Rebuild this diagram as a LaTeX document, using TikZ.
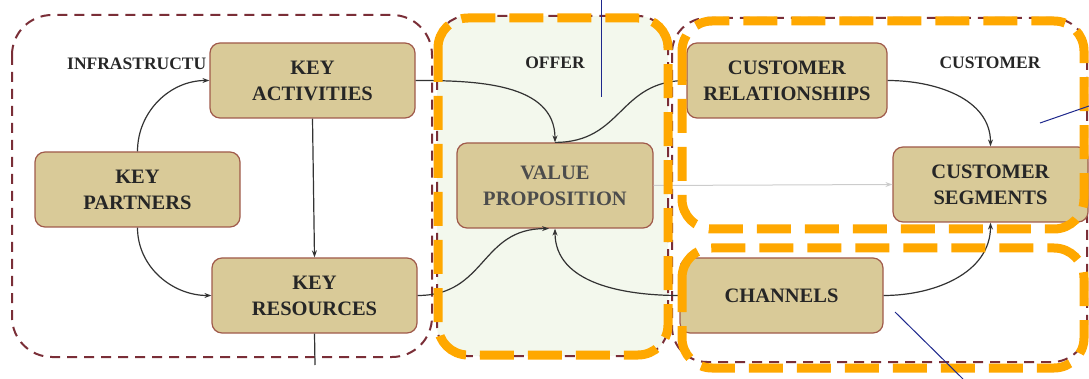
\documentclass[tikz,border=0pt]{standalone}
\usepackage{fontspec}
\setmainfont{Liberation Serif}
\usetikzlibrary{arrows.meta}

\definecolor{caja}{RGB}{217,202,152}
\definecolor{borde}{RGB}{160,90,75}
\definecolor{granate}{RGB}{122,46,55}
\definecolor{naranja}{RGB}{255,168,0}
\definecolor{verdoso}{RGB}{243,248,237}
\definecolor{azul}{RGB}{30,40,140}

\tikzset{
  bloque/.style={draw=borde, line width=1.2pt, fill=caja, rounded corners=10pt,
    inner sep=0pt, align=center, text=black!85,
    font=\fontsize{20.5}{26}\selectfont\bfseries},
  titulo/.style={inner sep=0pt, text=black!85, font=\fontsize{17.5}{20}\selectfont\bfseries},
  flecha/.style={-{Stealth[length=7pt,width=5pt]}, line width=1.2pt, black!80},
  linea/.style={line width=1.2pt, black!80},
  region/.style={granate, line width=2pt, dash pattern=on 10pt off 7pt},
  grupo/.style={naranja, line width=9pt, dash pattern=on 34pt off 14pt, rounded corners=30pt},
  nota/.style={azul, line width=1pt}
}

\begin{document}
\begin{tikzpicture}[x=1pt, y=-1pt]

    \useasboundingbox (0, 0) rectangle (1089, 379);

    % Regiones
    \fill[verdoso, rounded corners=30pt] (437, 16) rectangle (668, 356);
    \draw[region, rounded corners=40pt] (12, 15) rectangle (432, 357);
    \draw[region, rounded corners=30pt] (437, 16) rectangle (668, 356);
    \draw[region, rounded corners=35pt] (672, 18) rectangle (1087, 362);

    % Etiquetas
    \node[titulo, anchor=west] (infra) at (67, 64) {INFRASTRUCTU};
    \node[titulo] (oferta) at (555, 63) {OFFER};
    \node[titulo] (cliente) at (990, 63) {CUSTOMER};

    % Cajas
    \node[bloque, minimum width=205pt, minimum height=75pt] (ka) at (312.5, 80.5) {KEY\\ACTIVITIES};
    \node[bloque, minimum width=205pt, minimum height=75pt] (kp) at (137.5, 189.5) {KEY\\PARTNERS};
    \node[bloque, minimum width=205pt, minimum height=75pt] (kr) at (314.5, 295.5) {KEY\\RESOURCES};
    \node[bloque, minimum width=196pt, minimum height=85pt, text=black!70] (vp) at (555, 185.5) {VALUE\\PROPOSITION};
    \node[bloque, minimum width=200pt, minimum height=75pt] (cr) at (787, 80.5) {CUSTOMER\\RELATIONSHIPS};
    \node[bloque, minimum width=195pt, minimum height=75pt] (cs) at (990.5, 184.5) {CUSTOMER\\SEGMENTS};
    \node[bloque, minimum width=203pt, minimum height=75pt] (ch) at (781.5, 295.5) {CHANNELS};

    % Flechas
    \draw[flecha] (kp.north) to[out=90, in=180] (ka.west);
    \draw[flecha] (kp.south) to[out=-90, in=180] (kr.west);
    \draw[flecha] (ka.south) -- (kr.north);
    \draw[flecha] (ka.east) to[out=0, in=90] (vp.north);
    \draw[linea] (cr.west) to[out=180, in=0, looseness=1.2] (vp.north);
    \draw[flecha] (kr.east) to[out=0, in=180, looseness=1.2] ([xshift=-6pt]vp.south);
    \draw[flecha] (ch.west) to[out=180, in=-90] (vp.south);
    \draw[-{Stealth[length=7pt,width=5pt]}, line width=1pt, black!20] (vp.east) -- (cs.west);
    \draw[flecha] (cr.east) to[out=0, in=90] (cs.north);
    \draw[flecha] (ch.east) to[out=0, in=-90] (cs.south);
    \coordinate (abajo) at (315, 365);
    \draw[linea] (kr.south) -- (abajo);

    % Grupos
    \draw[grupo] (438, 18) rectangle (668, 355);
    \draw[grupo] (682, 21) rectangle (1084, 229);
    \draw[grupo] (682, 248) rectangle (1084, 368);

    % Notas
    \coordinate (n1a) at (601, 0);
    \coordinate (n1b) at (601, 97);
    \coordinate (n2a) at (1040, 123);
    \coordinate (n2b) at (1089, 106);
    \coordinate (n3a) at (895, 312);
    \coordinate (n3b) at (963, 379);
    \draw[nota] (n1a) -- (n1b);
    \draw[nota] (n2a) -- (n2b);
    \draw[nota] (n3a) -- (n3b);

  \end{tikzpicture}
\end{document}
